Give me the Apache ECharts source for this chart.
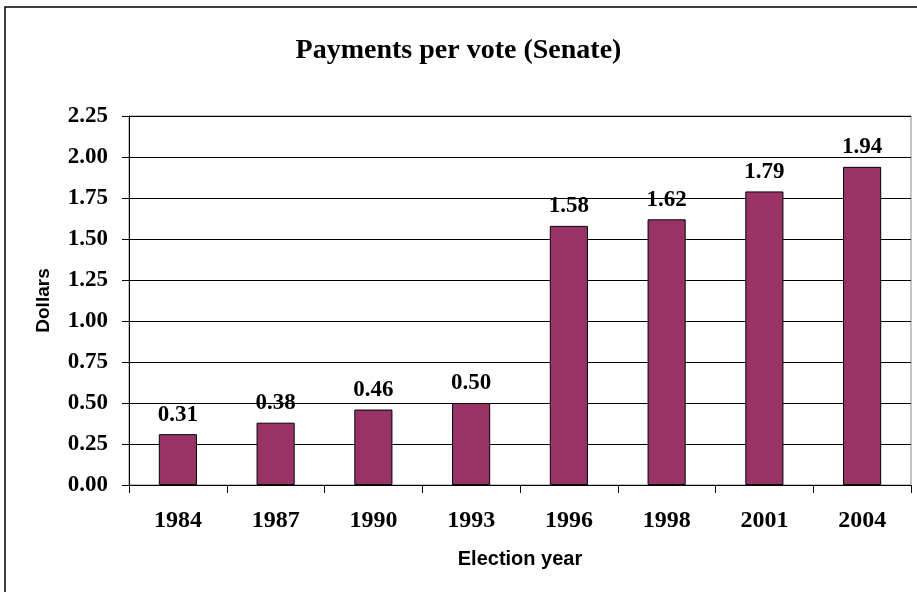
<!DOCTYPE html>
<html><head><meta charset="utf-8">
<script src="https://cdn.jsdelivr.net/npm/echarts@6/dist/echarts.min.js"></script>
<style>html,body{margin:0;padding:0;background:#fff}#c{width:917px;height:592px}</style>
</head><body><div id="c"></div>
<script>
const categories = ['1984','1987','1990','1993','1996','1998','2001','2004'];
const values = [0.31, 0.38, 0.46, 0.50, 1.58, 1.62, 1.79, 1.94];
const yTicks = [0, 0.25, 0.5, 0.75, 1, 1.25, 1.5, 1.75, 2, 2.25];

const chart = echarts.init(document.getElementById('c'));
chart.setOption({
  animation: false,
  backgroundColor: '#fff',
  graphic: [{
    type: 'rect', shape: {x: 5, y: 7, width: 930, height: 600},
    style: {fill: 'none', stroke: '#000', lineWidth: 1.5}, silent: true
  }],
  title: {
    text: 'Payments per vote (Senate)', left: 'center', top: 32,
    textStyle: {fontFamily: 'Liberation Serif', fontWeight: 'bold', fontSize: 28, color: '#000'}
  },
  grid: {left: 129, right: 6, top: 116, bottom: 107, show: true, borderColor: '#888', borderWidth: 1},
  xAxis: {
    type: 'category', data: categories,
    name: 'Election year', nameLocation: 'middle', nameGap: 64,
    nameTextStyle: {fontFamily: 'Liberation Sans', fontWeight: 'bold', fontSize: 20, color: '#000'},
    axisLine: {lineStyle: {color: '#000', width: 1}},
    axisTick: {show: true, length: 8, lineStyle: {color: '#000'}},
    axisLabel: {margin: 24, fontFamily: 'Liberation Serif', fontWeight: 'bold', fontSize: 24, color: '#000'}
  },
  yAxis: {
    type: 'value', min: 0, max: 2.25, interval: 0.25,
    name: 'Dollars', nameLocation: 'middle', nameGap: 76,
    nameTextStyle: {fontFamily: 'Liberation Sans', fontWeight: 'bold', fontSize: 19, color: '#000'},
    axisLine: {show: true, lineStyle: {color: '#000', width: 1}},
    axisTick: {show: true, length: 7, lineStyle: {color: '#000'}},
    splitLine: {lineStyle: {color: '#000', width: 1}},
    axisLabel: {margin: 21, fontFamily: 'Liberation Serif', fontWeight: 'bold', fontSize: 23, color: '#000',
      formatter: v => v.toFixed(2)}
  },
  series: [{
    type: 'bar', data: values, barWidth: '39%',
    itemStyle: {color: '#993366', borderColor: '#000', borderWidth: 1},
    label: {show: true, position: 'top', distance: 8, formatter: p => p.value.toFixed(2),
      fontFamily: 'Liberation Serif', fontWeight: 'bold', fontSize: 23, color: '#000'}
  }]
});
</script></body></html>
